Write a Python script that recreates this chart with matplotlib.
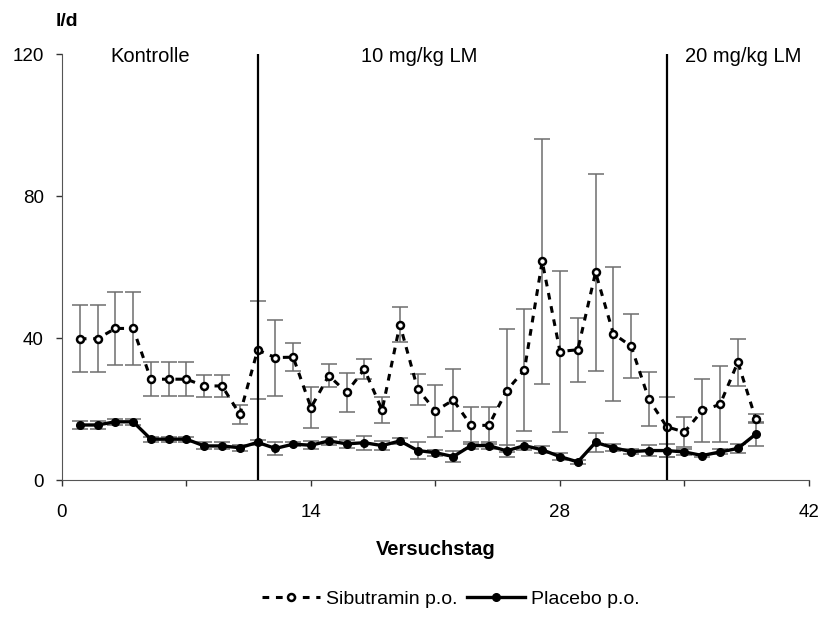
import matplotlib.pyplot as plt
import numpy as np

plt.rcParams["font.family"] = ["Liberation Sans", "DejaVu Sans"]

# ----- Data -----
days = np.arange(1, 40)

sibutramin = [39.8, 39.8, 42.7, 42.7, 28.4, 28.4, 28.4, 26.5, 26.5, 18.5,
              36.6, 34.5, 34.6, 20.4, 29.4, 24.7, 31.2, 19.7, 43.8, 25.6,
              19.5, 22.5, 15.4, 15.4, 25.2, 31.0, 61.6, 36.2, 36.7, 58.5,
              41.2, 37.7, 22.7, 15.0, 13.5, 19.6, 21.3, 33.2, 17.3]
sibutramin_err = [9.5, 9.5, 10.3, 10.3, 4.8, 4.8, 4.8, 3.2, 3.2, 2.7,
                  13.7, 10.7, 4.0, 5.7, 3.3, 5.4, 2.8, 3.6, 4.8, 4.4,
                  7.3, 8.8, 5.2, 5.2, 17.4, 17.3, 34.5, 22.8, 9.0, 27.7,
                  18.9, 9.1, 7.6, 8.5, 4.3, 8.8, 10.7, 6.6, 1.3]

placebo = [15.5, 15.5, 16.4, 16.4, 11.5, 11.5, 11.5, 9.6, 9.6, 9.1,
           10.6, 8.9, 10.1, 9.8, 11.0, 10.2, 10.5, 9.7, 11.0, 8.3,
           7.7, 6.6, 9.7, 9.7, 8.2, 9.7, 8.5, 6.6, 5.1, 10.6,
           9.1, 8.0, 8.3, 8.3, 7.9, 6.9, 7.9, 8.9, 12.9]
placebo_err = [1.1, 1.1, 0.8, 0.8, 0.7, 0.7, 0.7, 1.0, 1.0, 0.8,
               0.8, 1.8, 0.6, 1.2, 1.0, 1.2, 2.0, 1.3, 0.9, 2.3,
               0.8, 1.5, 0.9, 0.9, 1.6, 1.3, 1.0, 1.0, 0.5, 2.7,
               1.0, 0.8, 1.5, 1.8, 0.8, 0.5, 0.7, 1.2, 3.4]

phase_limits = [11, 34]
phase_labels = ["Kontrolle", "10 mg/kg LM", "20 mg/kg LM"]
phase_label_x = [4.95, 20.1, 38.3]

# ----- Plot -----
fig = plt.figure(figsize=(8.24, 6.26), dpi=100)
ax = fig.add_axes([0.0752, 0.2332, 0.9066, 0.6805])

err_color = "#6e6e6e"
ax.errorbar(days, sibutramin, yerr=sibutramin_err, fmt="none",
            ecolor=err_color, elinewidth=1.1, capsize=5.5, capthick=1.1, zorder=2)
ax.errorbar(days, placebo, yerr=placebo_err, fmt="none",
            ecolor=err_color, elinewidth=1.1, capsize=5.5, capthick=1.1, zorder=2)

ax.plot(days, sibutramin, color="black", linestyle=(0, (2.2, 2.2)), linewidth=2.2,
        marker="o", markersize=5, markerfacecolor="white", markeredgecolor="black",
        markeredgewidth=1.8, label="Sibutramin p.o.", zorder=3)
ax.plot(days, placebo, color="black", linestyle="-", linewidth=2.4,
        marker="o", markersize=5.5, markerfacecolor="black", markeredgecolor="black",
        label="Placebo p.o.", zorder=3)

for x in phase_limits:
    ax.plot([x, x], [0, 120], color="black", linewidth=1.6, zorder=4)

for x, txt in zip(phase_label_x, phase_labels):
    ax.text(x, 119.3, txt, ha="center", va="center", fontsize=14.5)

ax.set_xlim(0, 42)
ax.set_ylim(0, 120)
ax.set_xticks([0, 14, 28, 42])
ax.set_xticks([7, 21, 35], minor=True)
ax.set_yticks([0, 40, 80, 120])
ax.tick_params(axis="both", which="both", direction="out", labelsize=13.5, width=1, color="#333333")
ax.tick_params(axis="both", which="major", length=4)
ax.tick_params(axis="x", which="minor", length=4)
ax.tick_params(axis="x", pad=13)
ax.tick_params(axis="y", pad=9)
ax.spines["top"].set_visible(False)
ax.spines["right"].set_visible(False)
ax.spines["left"].set_color("#555555")
ax.spines["bottom"].set_color("#555555")

ax.set_xlabel("Versuchstag", fontsize=14.5, fontweight="bold", labelpad=14)
fig.text(0.068, 0.966, "l/d", fontsize=14, fontweight="bold", ha="left", va="center")

fig.legend(loc="center", bbox_to_anchor=(0.547, 0.043), ncol=2, frameon=False,
           fontsize=14, handlelength=3.0, columnspacing=0.5, handletextpad=0.3)

fig.savefig("out.png", dpi=100)
